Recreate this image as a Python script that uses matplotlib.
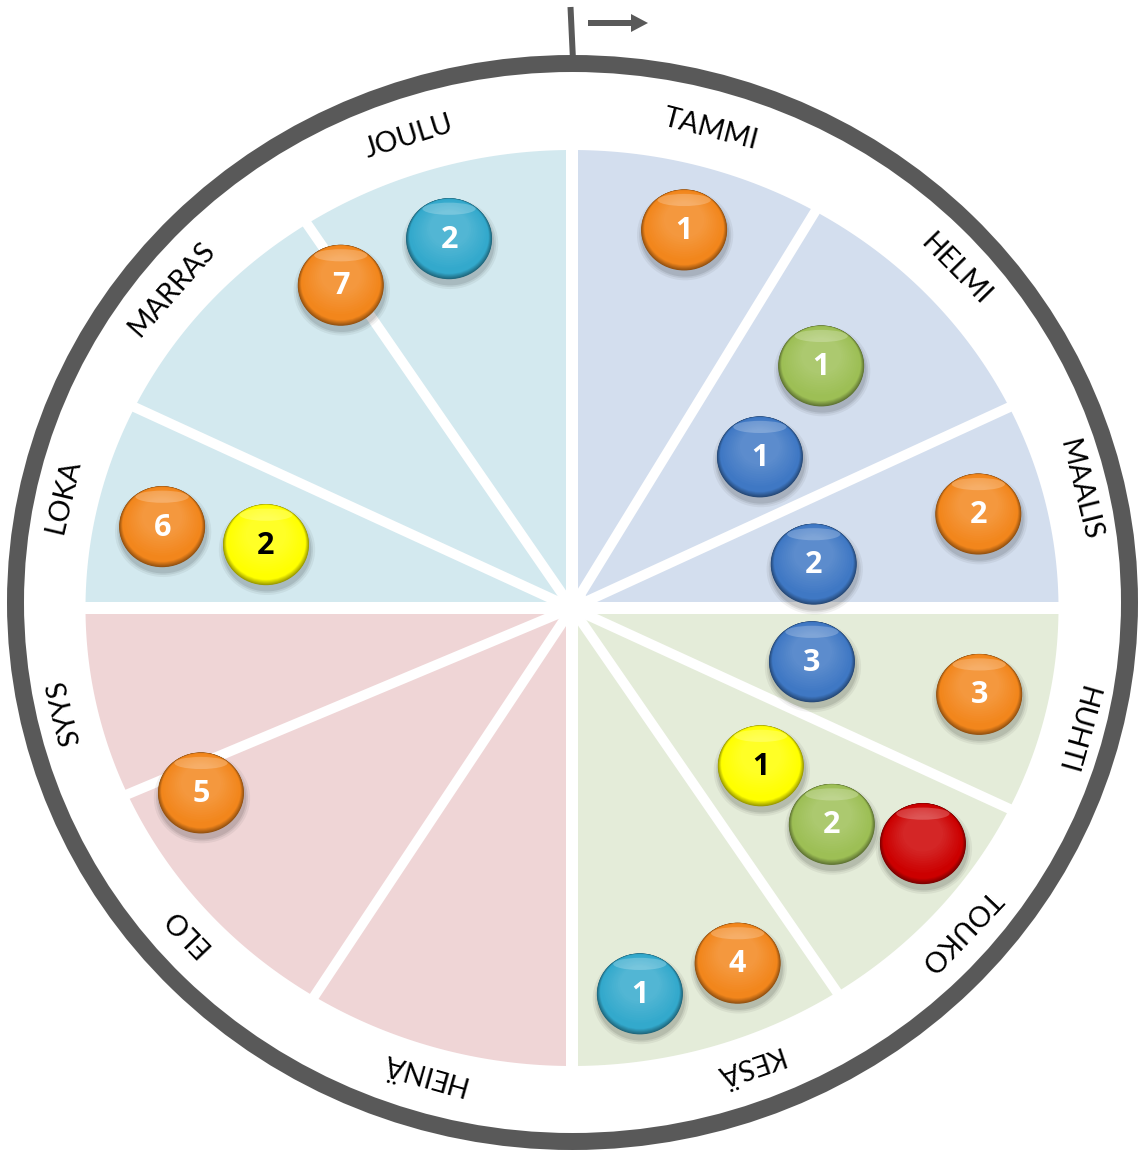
import numpy as np
import matplotlib
matplotlib.use('Agg')
import matplotlib.pyplot as plt
from matplotlib.patches import Ellipse, Polygon, FancyArrow
from matplotlib.colors import to_rgb

# ---------------- data ----------------
months = ['TAMMI', 'HELMI', 'MAALIS', 'HUHTI', 'TOUKO', 'KESÄ',
          'HEINÄ', 'ELO', 'SYYS', 'LOKA', 'MARRAS', 'JOULU']
# start angle of every month on the wheel (degrees clockwise from the top)
month_start_deg = [0, 30, 64, 90, 116, 147, 180, 212, 246, 270, 296, 327]
# colour of each quarter (Q1 = Tammi-Maalis, Q2 = Huhti-Kesä, Q3 = Heinä-Syys, Q4 = Loka-Joulu)
quarter_colors = ['#D3DEEE', '#E4ECD9', '#EFD5D6', '#D3E9EF']

# markers ("balls"): colour category, number shown, place on the wheel
ball_kind = ['orange', 'green', 'blue', 'orange', 'blue', 'blue', 'orange',
             'yellow', 'green', 'red', 'cyan', 'orange', 'orange', 'orange',
             'yellow', 'orange', 'cyan']
ball_label = ['1', '1', '1', '2', '2', '3', '3',
              '1', '2', '', '1', '4', '5', '6',
              '2', '7', '2']
ball_angle = [15.6, 44.1, 49.5, 76.2, 79.1, 103.4, 102.7,
              131.6, 131.5, 125.5, 170.6, 156.3, 242.1, 281.9,
              282.4, 326.0, 342.6]
ball_track = [0.857, 0.736, 0.508, 0.860, 0.506, 0.507, 0.858,
              0.519, 0.713, 0.886, 0.854, 0.847, 0.863, 0.861,
              0.644, 0.850, 0.845]

kind_colors = {'orange': '#F2861C', 'green': '#9DBF55', 'blue': '#3F78C4',
               'cyan': '#33A9CC', 'yellow': '#FFFF00', 'red': '#CC0000'}
kind_text = {'orange': 'white', 'green': 'white', 'blue': 'white',
             'cyan': 'white', 'yellow': 'black', 'red': 'white'}

# ---------------- layout ----------------
# angle of each month label on the wheel (degrees clockwise from the top)
label_angle_deg = [15.4, 47.3, 76.8, 104.9, 131.9, 160.3,
                   196.7, 227.9, 257.0, 282.5, 309.7, 341.7]

W, H = 1141, 1152
fig = plt.figure(figsize=(W / 100, H / 100), dpi=100)
ax = fig.add_axes([0, 0, 1, 1])
ax.set_xlim(0, W)
ax.set_ylim(H, 0)
ax.axis('off')

CX, CY = 572, 608          # centre of the coloured disc
RX, RY = 486.5, 458        # radii of the coloured disc
RCX, RCY = 572.5, 602.5    # centre of the outer ring
RRX, RRY = 557, 539        # radii (centre line) of the outer ring
LRX, LRY = 512, 482        # radii of the label circle
GREY = '#595959'


def pt(a_deg, r, cx=CX, cy=CY, rx=RX, ry=RY):
    a = np.radians(a_deg)
    return cx + r * rx * np.sin(a), cy - r * ry * np.cos(a)


# quarter wedges
for q in range(4):
    a = np.linspace(q * 90, (q + 1) * 90, 120)
    xs, ys = pt(a, 1.0)
    poly = np.vstack([[CX, CY], np.column_stack([xs, ys])])
    ax.add_patch(Polygon(poly, closed=True, facecolor=quarter_colors[q],
                         edgecolor='none', zorder=1))

# white gaps between quarters
px = 72 / 100
ax.plot([CX - RX - 10, CX + RX + 10], [CY, CY], color='white', lw=12 * px,
        solid_capstyle='butt', zorder=2)
ax.plot([CX, CX], [CY - RY - 10, CY + RY + 10], color='white', lw=12 * px,
        solid_capstyle='butt', zorder=2)
# white dividers between months
for a in month_start_deg:
    if a % 90 == 0:
        continue
    x1, y1 = pt(a, 1.05)
    ax.plot([CX, x1], [CY, y1], color='white', lw=10 * px,
            solid_capstyle='butt', zorder=2)
ax.add_patch(Ellipse((CX, CY - 2), 34, 32, color='white', zorder=2))

# outer ring
ax.add_patch(Ellipse((RCX, RCY), 2 * RRX, 2 * RRY, facecolor='none',
                     edgecolor=GREY, lw=17 * px, zorder=2))

# start marker and arrow
ax.plot([570.5, 573], [7, 60], color=GREY, lw=6 * px, solid_capstyle='butt',
        zorder=3)
ax.add_patch(FancyArrow(588, 23, 60, 0, width=6, head_width=18,
                        head_length=17, length_includes_head=True,
                        color=GREY, lw=0, zorder=3))

# month labels
for name, mid in zip(months, label_angle_deg):
    x, y = pt(mid, 1.018, RCX, RCY, LRX, LRY)
    a = np.radians(mid)
    rot = np.degrees(np.arctan2(-LRY * np.sin(a), LRX * np.cos(a)))
    ax.text(x, y, name, rotation=rot, rotation_mode='anchor', ha='center',
            va='center', fontsize=20.5, color='black',
            family=['Lato', 'DejaVu Sans'], zorder=4)


# balls
def ball(x, y, color, label, tcolor):
    w, h = 86, 81
    for s, al in [(1.12, 0.05), (1.07, 0.07), (1.03, 0.09)]:
        ax.add_patch(Ellipse((x + 1, y + 5), w * s, h * s, color='black',
                             alpha=al, lw=0, zorder=5))
    base = np.array(to_rgb(color))
    dark = base * 0.6
    light = np.minimum(base + (1 - base) * 0.25, 1)
    ax.add_patch(Ellipse((x, y), w, h, color=dark, lw=0, zorder=6))
    n = 10
    for i in range(n):
        t = (i + 1) / n
        s = 1 - 0.08 * t
        c = dark * (1 - t) + base * t
        ax.add_patch(Ellipse((x, y - (1 - s) * h * 0.35), w * s, h * s,
                             color=c, lw=0, zorder=6))
    n = 10
    for i in range(n):
        t = (i + 1) / n
        s = 0.92 - 0.45 * t
        c = base * (1 - t * 0.6) + light * t * 0.6
        ax.add_patch(Ellipse((x, y - 4 - 6 * t), w * s, h * s * 0.95,
                             color=c, lw=0, zorder=6))
    # top highlight
    ax.add_patch(Ellipse((x, y - h * 0.37), w * 0.62, h * 0.15,
                         color='white', alpha=0.22, lw=0, zorder=6))
    if label:
        ax.text(x, y + 1, label, ha='center', va='center', fontsize=22,
                fontweight='bold', color=tcolor,
                family=['Open Sans', 'DejaVu Sans'], zorder=7)


for k, lab, ang, tr in zip(ball_kind, ball_label, ball_angle, ball_track):
    x, y = pt(ang, tr)
    ball(x, y, kind_colors[k], lab, kind_text[k])

fig.savefig('out.png', dpi=100, facecolor='white')
